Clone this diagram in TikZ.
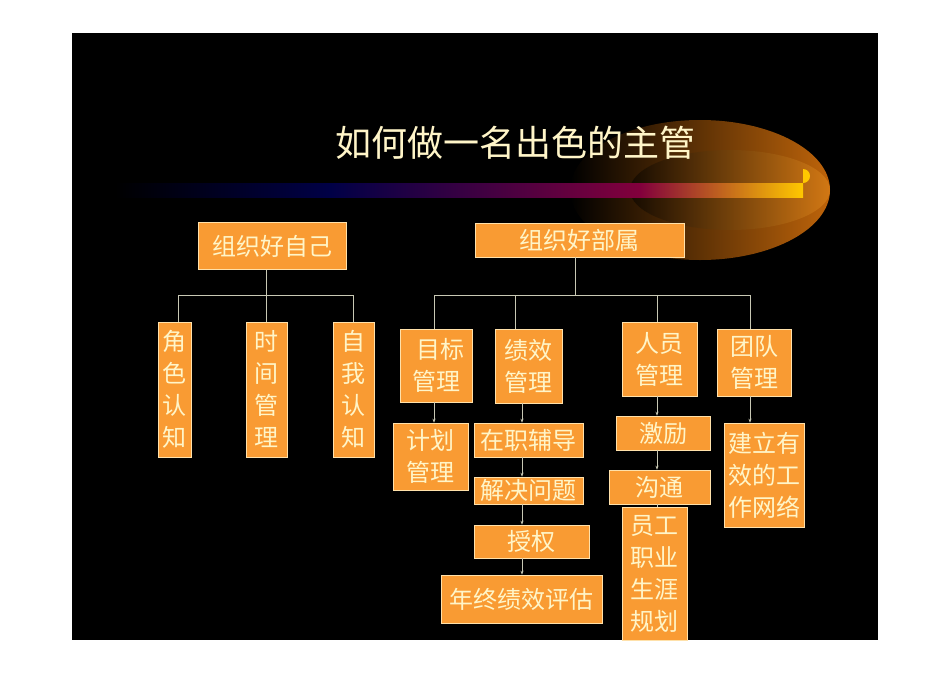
\documentclass[tikz,border=0pt]{standalone}
\usepackage{fontspec}
\usetikzlibrary{arrows.meta}
\newfontfamily\cjk{Noto Sans CJK SC}
\definecolor{boxfill}{RGB}{249,155,51}
\definecolor{boxedge}{RGB}{255,225,170}
\definecolor{cream}{RGB}{255,245,200}
\definecolor{lncol}{RGB}{200,200,180}
\definecolor{glowA}{RGB}{190,100,10}
\definecolor{glowB}{RGB}{230,140,30}
\definecolor{navy}{RGB}{0,0,70}
\definecolor{magen}{RGB}{130,0,60}
\definecolor{gold}{RGB}{255,200,0}
\begin{document}
\begin{tikzpicture}[x=1pt,y=-1pt,
  bx/.style={draw=boxedge,line width=0.6pt,fill=boxfill,
    text=cream,inner sep=0pt,align=center,font=\cjk\fontsize{24}{32}\selectfont},
  ln/.style={draw=lncol,line width=0.6pt},
  ar/.style={ln,-{Stealth[length=4pt,width=3pt]}}]
\useasboundingbox (0,0) rectangle (950,672);
\fill[white] (0,0) rectangle (950,672);
\fill[black] (72,33) rectangle (878,640);
% glow
\begin{scope}
\clip (572,100) rectangle (878,280);
\shade[left color=black,right color=glowA] (700,190) ellipse[x radius=130,y radius=70];
\shade[left color=black,right color=glowB,opacity=0.5] (730,190) ellipse[x radius=100,y radius=40];
\end{scope}
% bar
\shade[left color=black,right color=navy] (115,183) rectangle (330,197);
\shade[left color=navy,right color=magen] (330,183) rectangle (640,197);
\shade[left color=magen,right color=gold] (640,183) rectangle (803,197);
\fill[gold] (803,183) arc[start angle=90,end angle=-90,radius=7];
\node[text=cream,font=\cjk\fontsize{36}{42}\selectfont] (title) at (515,143) {如何做一名出色的主管};
% top boxes
\node[bx,minimum width=148,minimum height=47] (self) at (272,246) {组织好自己};
\node[bx,minimum width=209,minimum height=34] (sub) at (579.5,240) {组织好部属};
% left children
\node[bx,minimum width=33,minimum height=135] (a1) at (174.5,389.5) {角\\色\\认\\知};
\node[bx,minimum width=41,minimum height=135] (a2) at (266.5,389.5) {时\\间\\管\\理};
\node[bx,minimum width=41,minimum height=135] (a3) at (353.5,389.5) {自\\我\\认\\知};
\coordinate (lj) at (266,295);
\draw[ln] (self.south -| lj) -- (lj);
\draw[ln] (178,295) -- (353,295);
\draw[ln] (178,295) -- (a1.north -| 178,0);
\draw[ln] (lj) -- (a2.north -| lj);
\draw[ln] (353,295) -- (a3.north -| 353,0);
% right children
\node[bx,minimum width=72,minimum height=73] (b1) at (436,365.5) {\hspace*{8pt}目标\\管理};
\node[bx,minimum width=67,minimum height=74] (b2) at (528.5,366) {绩效\\管理};
\node[bx,minimum width=75,minimum height=74] (b3) at (659.5,359) {人员\\管理};
\node[bx,minimum width=74,minimum height=67] (b4) at (754,362.5) {团队\\管理};
\coordinate (rj) at (575,295);
\draw[ln] (sub.south -| rj) -- (rj);
\draw[ln] (434,295) -- (750,295);
\draw[ln] (434,295) -- (b1.north -| 434,0);
\draw[ln] (515,295) -- (b2.north -| 515,0);
\draw[ln] (657,295) -- (b3.north -| 657,0);
\draw[ln] (750,295) -- (b4.north -| 750,0);
% second level
\node[bx,minimum width=75,minimum height=67] (c1) at (430.5,456.5) {计划\\管理};
\node[bx,minimum width=109,minimum height=34] (c2) at (528.5,440) {在职辅导};
\node[bx,minimum width=109,minimum height=27] (c3) at (528.5,490.5) {解决问题};
\node[bx,minimum width=115,minimum height=33] (c4) at (531.5,541.5) {授权};
\node[bx,minimum width=161,minimum height=48] (c5) at (521.5,599) {年终绩效评估};
\node[bx,minimum width=94,minimum height=34] (d1) at (663,433) {激励};
\node[bx,minimum width=101,minimum height=34] (d2) at (659.5,487) {沟通};
\node[bx,minimum width=65,minimum height=133] (d3) at (654.5,573.5) {员工\\职业\\生涯\\规划};
\node[bx,minimum width=80,minimum height=104] (e1) at (764,475) {建立有\\效的工\\作网络};
\draw[ar] (b1.south -| 434,0) -- (c1.north -| 434,0);
\draw[ar] (b2.south -| 522,0) -- (c2.north -| 522,0);
\draw[ar] (c2.south -| 522,0) -- (c3.north -| 522,0);
\draw[ar] (c3.south -| 522,0) -- (c4.north -| 522,0);
\draw[ar] (c4.south -| 522,0) -- (c5.north -| 522,0);
\draw[ar] (b3.south -| 657,0) -- (d1.north -| 657,0);
\draw[ar] (d1.south -| 657,0) -- (d2.north -| 657,0);
\draw[ln] (d2.south -| 657,0) -- (d3.north -| 657,0);
\draw[ar] (b4.south -| 750,0) -- (e1.north -| 750,0);
\end{tikzpicture}
\end{document}
